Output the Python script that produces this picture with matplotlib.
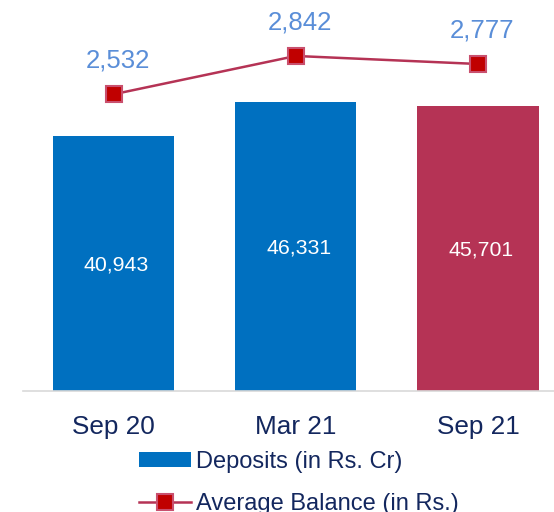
import matplotlib
matplotlib.use("Agg")
import matplotlib.pyplot as plt
from matplotlib.patches import Patch
from matplotlib.lines import Line2D

plt.rcParams['font.family'] = ['Liberation Sans', 'DejaVu Sans']

periods = ["Sep 20", "Mar 21", "Sep 21"]
deposits = [40943, 46331, 45701]          # Rs. Cr
avg_balance = [2532, 2842, 2777]          # Rs.
bar_colors = ["#0070C0", "#0070C0", "#B53355"]

navy = "#13275E"
label_blue = "#5A8ED8"
line_red = "#B53355"

W, H = 554, 512
fig = plt.figure(figsize=(W / 100, H / 100), dpi=100)
ax_left = 22.5 / W
ax_bottom = (H - 391) / H
ax = fig.add_axes([ax_left, ax_bottom, 1 - ax_left, 391 / H])

x = list(range(len(periods)))
bars = ax.bar(x, deposits, width=0.665, color=bar_colors, zorder=2)
ax.set_xlim(-0.5, 2.417)
ax.set_ylim(0, 62750)

for xi, v in zip(x, deposits):
    ax.annotate(f"{v:,}", (xi, v / 2), xytext=(2, -1), textcoords="offset points",
                ha="center", va="center", color="white", fontsize=15.3, zorder=3)

for side in ["top", "right", "left"]:
    ax.spines[side].set_visible(False)
ax.spines["bottom"].set_color("#D9D9D9")
ax.spines["bottom"].set_linewidth(1.2)
ax.set_yticks([])
ax.set_xticks(x)
ax.set_xticklabels(periods, fontsize=18.8, color=navy)
ax.tick_params(axis="x", length=0, pad=17.5)

ax2 = ax.twinx()
ax2.set_ylim(130, 3295)
ax2.axis("off")
ax2.plot(x, avg_balance, color=line_red, lw=1.8, marker="s", markersize=11,
         markerfacecolor="#C00000", markeredgecolor="#C9506E",
         markeredgewidth=1.5, zorder=4)
for xi, v in zip(x, avg_balance):
    ax2.annotate(f"{v:,}", (xi, v), xytext=(3, 15.5), textcoords="offset points",
                 ha="center", va="bottom", color=label_blue, fontsize=18.5)

handles = [
    Patch(facecolor="#0070C0", edgecolor="none"),
    Line2D([0], [0], color=line_red, lw=1.8, marker="s", markersize=11,
           markerfacecolor="#C00000", markeredgecolor="#C9506E",
           markeredgewidth=1.5),
]
fig.legend(handles, ["Deposits (in Rs. Cr)", "Average Balance (in Rs.)"],
           loc="upper left", bbox_to_anchor=(139 / W, 1 - 451 / H),
           bbox_transform=fig.transFigure, frameon=False, fontsize=17,
           labelcolor=navy, handlelength=2.2, handleheight=0.6,
           handletextpad=0.2, labelspacing=0.85, borderpad=0, borderaxespad=0)

fig.savefig("out.png", dpi=100)
